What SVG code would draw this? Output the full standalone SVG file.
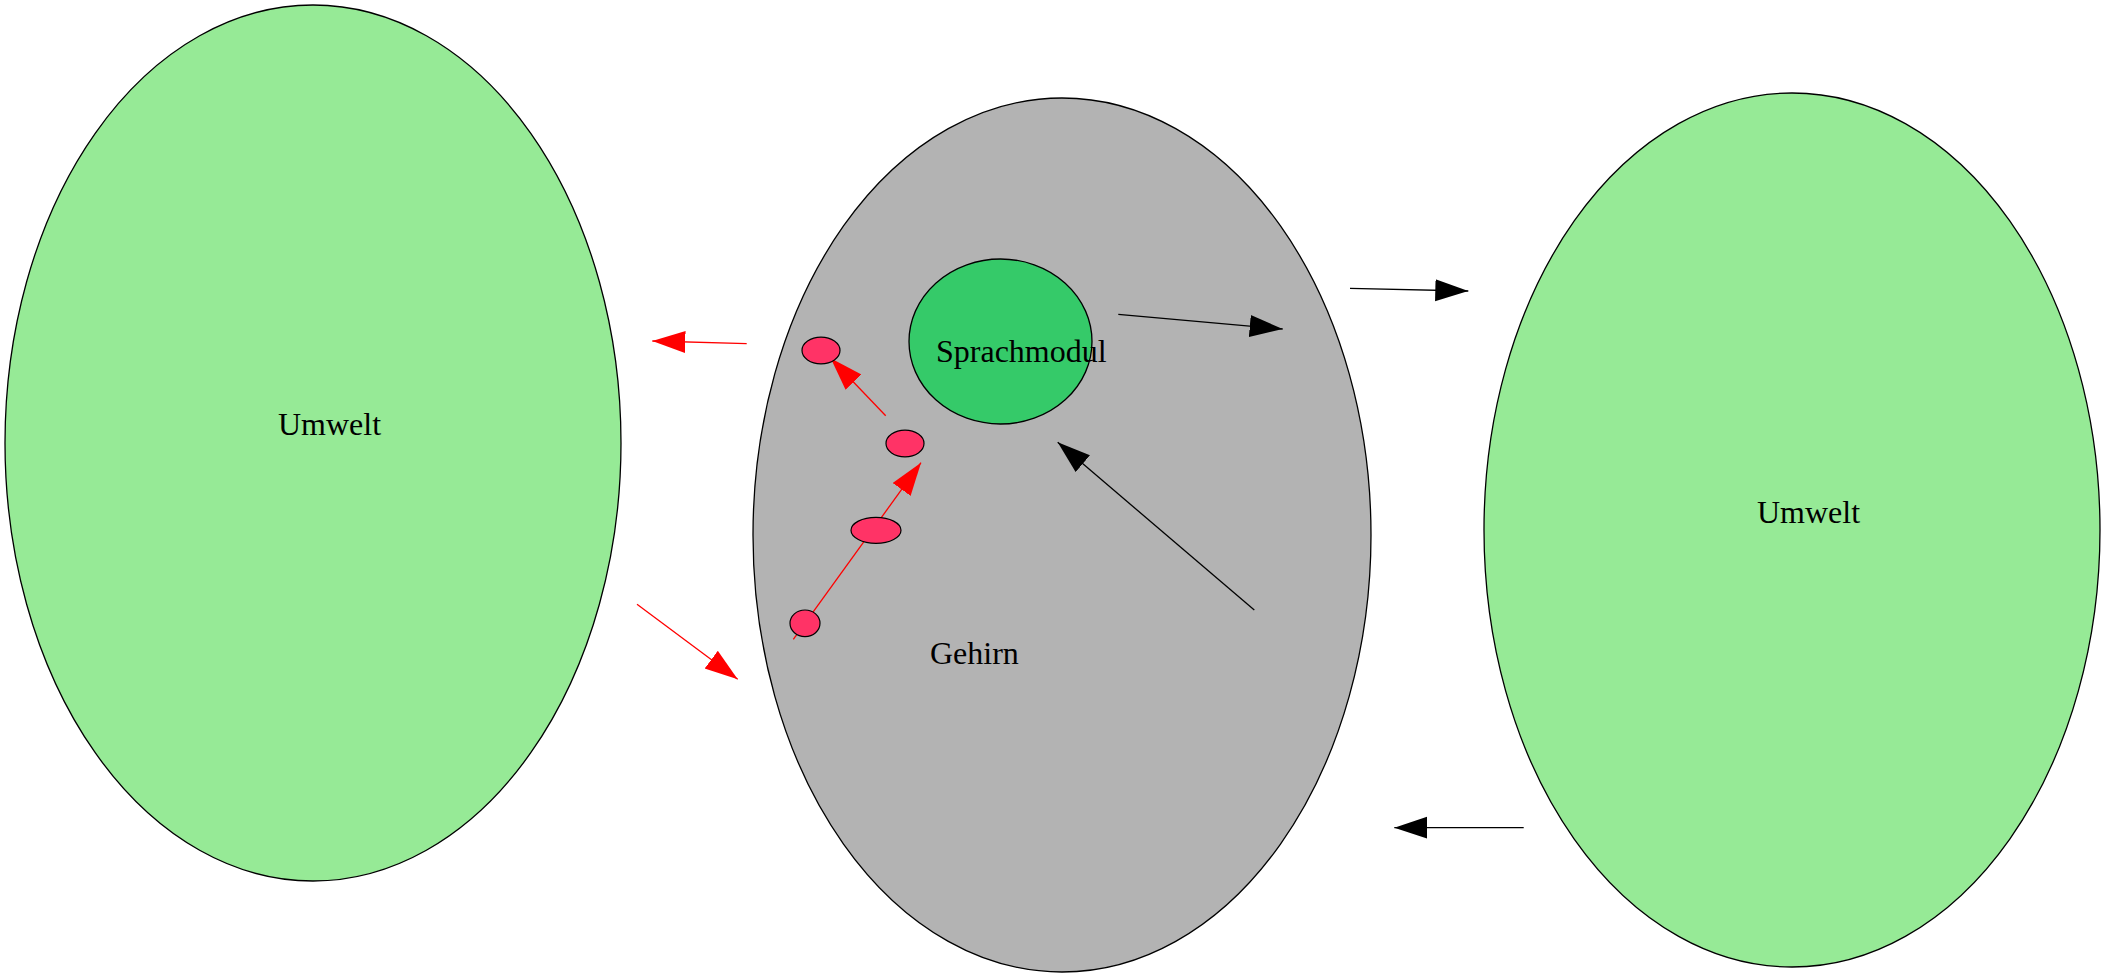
<svg xmlns="http://www.w3.org/2000/svg" width="2105" height="974" viewBox="0 0 2105 974">
<style>
.big{stroke:#000;stroke-width:1.3}
.env{fill:#96ea96}
.brain{fill:#b3b3b3}
.mod{fill:#35ca69;stroke:#000;stroke-width:1.3}
.dot{fill:#ff3366;stroke:#000;stroke-width:1.2}
.lbl{font-family:"Liberation Serif",serif;font-size:32px;fill:#000}
.red{stroke:#ff0000;stroke-width:1.3;fill:none;marker-end:url(#ahR)}
.blk{stroke:#000;stroke-width:1.3;fill:none;marker-end:url(#ahK)}
</style>
<defs>
<marker id="ahR" markerUnits="userSpaceOnUse" markerWidth="34" markerHeight="24" refX="33" refY="11" orient="auto" viewBox="0 0 34 24">
<path d="M0,0 L33,11 L0,22 z" fill="#ff0000"/>
</marker>
<marker id="ahK" markerUnits="userSpaceOnUse" markerWidth="34" markerHeight="24" refX="33" refY="11" orient="auto" viewBox="0 0 34 24">
<path d="M0,0 L33,11 L0,22 z" fill="#000"/>
</marker>
</defs>
<rect width="2105" height="974" fill="#fff"/>
<g id="umwelt-left">
<ellipse class="big env" cx="313" cy="443" rx="308" ry="438"/>
<text class="lbl" x="278" y="435">Umwelt</text>
</g>
<g id="gehirn">
<ellipse class="big brain" cx="1062" cy="535" rx="309" ry="437"/>
<text class="lbl" x="930" y="664">Gehirn</text>
</g>
<g id="umwelt-right">
<ellipse class="big env" cx="1792" cy="530" rx="308" ry="437"/>
<text class="lbl" x="1757" y="523">Umwelt</text>
</g>
<g id="sprachmodul">
<ellipse class="mod" cx="1000.5" cy="341.5" rx="91.5" ry="82.5"/>
<text class="lbl" x="936" y="362">Sprachmodul</text>
</g>
<g id="connectors">
<line class="red" x1="793.3" y1="639.3" x2="921" y2="462.7"/>
<line class="red" x1="885.7" y1="415.7" x2="830.7" y2="358.3"/>
<line class="red" x1="746.7" y1="343.7" x2="652.3" y2="341"/>
<line class="red" x1="637" y1="604.3" x2="737.7" y2="679.3"/>
<line class="blk" x1="1118.3" y1="314.3" x2="1282.7" y2="329"/>
<line class="blk" x1="1350" y1="288.3" x2="1468.3" y2="291"/>
<line class="blk" x1="1254.3" y1="610" x2="1057.7" y2="442.3"/>
<line class="blk" x1="1523.7" y1="827.7" x2="1394.3" y2="827.7"/>
</g>
<g id="neuron1"><ellipse class="dot" cx="821" cy="350.5" rx="19" ry="13.3"/></g>
<g id="neuron2"><ellipse class="dot" cx="905" cy="443.5" rx="19" ry="13.3"/></g>
<g id="neuron3"><ellipse class="dot" cx="876" cy="530.3" rx="25" ry="13"/></g>
<g id="neuron4"><ellipse class="dot" cx="805" cy="623.3" rx="15" ry="13.3"/></g>
</svg>
